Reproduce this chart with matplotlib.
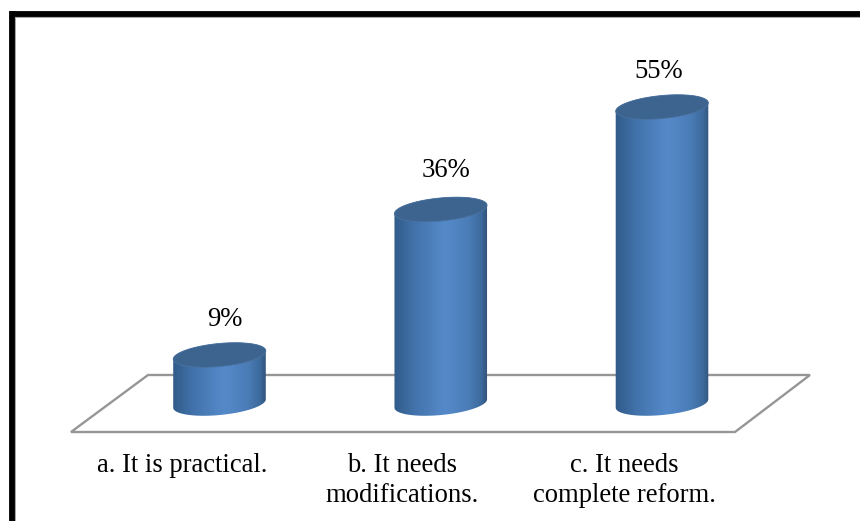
import numpy as np
import matplotlib
matplotlib.use("Agg")
import matplotlib.pyplot as plt
from matplotlib.colors import LinearSegmentedColormap
from matplotlib.patches import PathPatch, Polygon
from matplotlib.path import Path
from matplotlib.transforms import IdentityTransform

# Survey responses
categories = ["a. It is practical.", "b. It needs\nmodifications.", "c. It needs\ncomplete reform."]
values = [9, 36, 55]
value_labels = ["9%", "36%", "55%"]

W, H = 860, 521
FONT_SIZE = 19.2
plt.rcParams["font.family"] = ["Liberation Serif", "DejaVu Serif"]
fig = plt.figure(figsize=(W / 100, H / 100), dpi=100, facecolor="white")
ax = fig.add_axes([0, 0, 1, 1])
ax.axis("off")

# Linear scales: one unit of x is one category, one unit of y is one percent
X0, DX = 219.5, 221.25
Y0, DY = 403.5, 5.39


def set_scales():
    ax.set_xlim(-X0 / DX, (W - X0) / DX)
    ax.set_ylim((Y0 - H) / DY, Y0 / DY)


set_scales()


def px(x, y):
    """Pixel position (top-left origin) to display coordinates."""
    return x, H - y


# Outer frame: top and left rules only, with a faint grey edge
for xs, ys, color in [((10, W), (14.5, 14.5), "#a0a0a0"), ((13, 13), (11, H), "#a0a0a0"),
                      ((9.5, W), (13.5, 13.5), "black"), ((12, 12), (11, H), "black")]:
    ax.add_line(plt.Line2D(xs, [H - y for y in ys], color=color, lw=4.2,
                           transform=IdentityTransform(), solid_capstyle="butt"))

# Floor plane
floor = [px(71, 432), px(735, 432), px(810, 375), px(148, 375)]
ax.add_patch(Polygon(floor, closed=True, fc="white", ec="#969696", lw=1.7,
                     transform=IdentityTransform(), zorder=1))

side_cmap = LinearSegmentedColormap.from_list(
    "cyl", [(0, "#2f5a88"), (0.22, "#4272aa"), (0.55, "#558aca"),
            (0.8, "#4a7cb6"), (0.93, "#3d6a9c"), (1, "#2f5078")])
RX, RY, TILT = 46.5, 11.5, np.deg2rad(5.5)


def ellipse_pts(cx, cy, t):
    ex = RX * np.cos(t)
    ey = RY * np.sin(t)
    # The rim rises towards the right
    return np.column_stack([cx + ex * np.cos(TILT) - ey * np.sin(TILT),
                            cy + ex * np.sin(TILT) + ey * np.cos(TILT)])


for i, v in enumerate(values):
    cx, base = ax.transData.transform((i, 0))
    _, top = ax.transData.transform((i, v))

    # Wall: lower half of the base rim joined to the upper rim
    low = ellipse_pts(cx, base, np.linspace(np.pi, 2 * np.pi, 60))
    up = ellipse_pts(cx, top, np.linspace(0, np.pi, 60))
    outline = np.vstack([low, up, low[:1]])
    clip = PathPatch(Path(outline), transform=IdentityTransform(), fc="none", ec="none")
    ax.add_patch(clip)
    im = ax.imshow(np.linspace(0, 1, 256)[None, :], cmap=side_cmap, aspect="auto",
                   extent=(cx - RX - 1, cx + RX + 1, base - 20, top + 20),
                   transform=IdentityTransform(), zorder=3, interpolation="bilinear")
    im.set_clip_path(clip)

    # Top cap
    cap = ellipse_pts(cx, top, np.linspace(0, 2 * np.pi, 120))
    ax.add_patch(Polygon(cap, closed=True, fc="#3d648f", ec="#4a729f", lw=0.6,
                         transform=IdentityTransform(), zorder=4))

set_scales()

# Value labels above the columns
label_offsets = [(5.5, 35), (5.5, 39), (-3, 36)]
for i, (v, lab, off) in enumerate(zip(values, value_labels, label_offsets)):
    cx, top = ax.transData.transform((i, v))
    ax.text(cx + off[0], top + off[1], lab, transform=IdentityTransform(), ha="center",
            va="center", fontsize=FONT_SIZE, color="black", zorder=5)

# Category labels under the floor; all start from the same first line
label_x = [182, 402, 624]
for x, lab in zip(label_x, categories):
    ax.text(x, H - 453, lab, transform=IdentityTransform(), ha="center", va="top",
            fontsize=FONT_SIZE, color="black", linespacing=1.26)

fig.savefig("out.png", dpi=100, facecolor="white")
